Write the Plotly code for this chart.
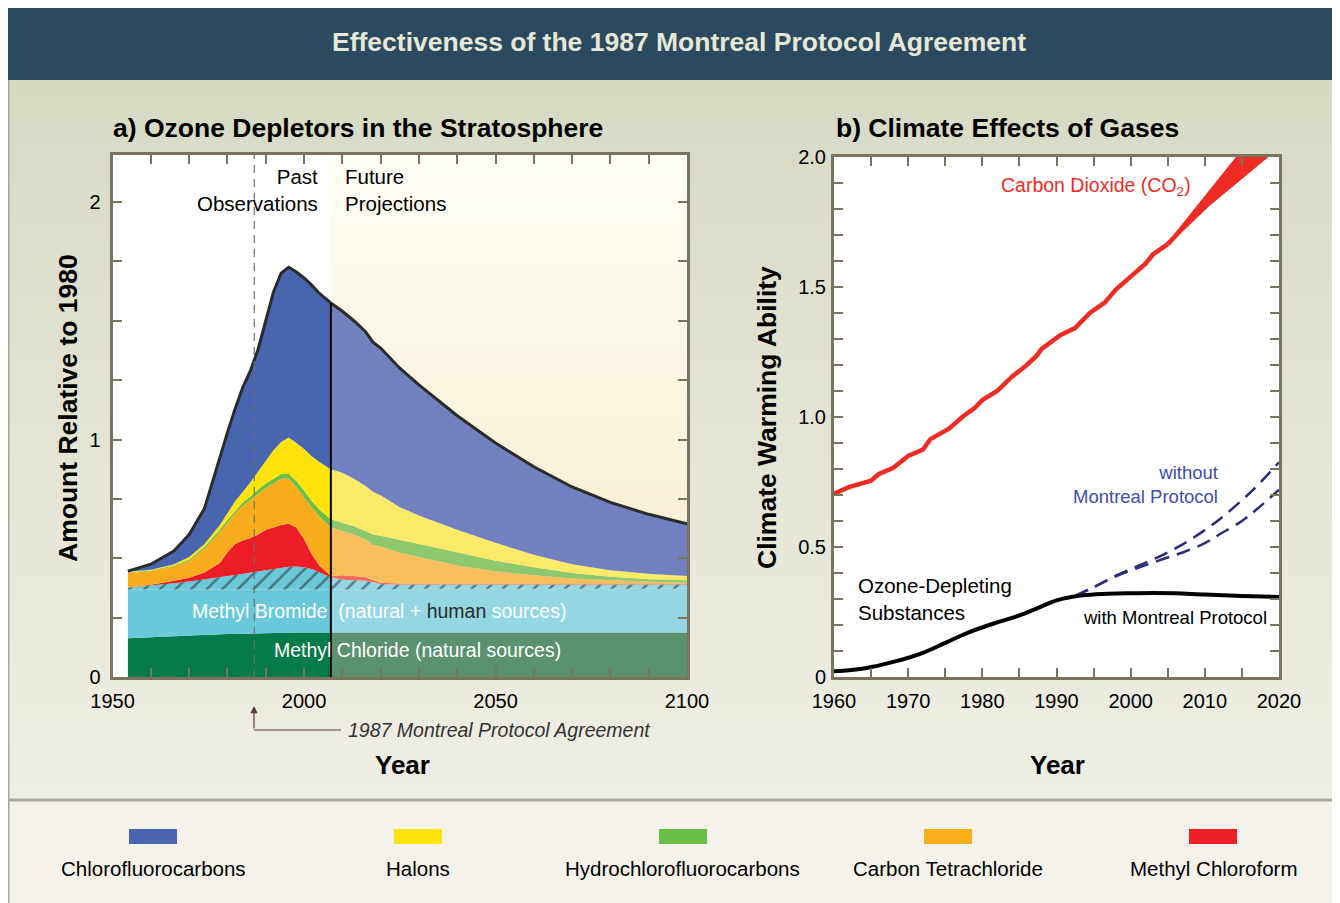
import plotly.graph_objects as go

W, H = 1340, 903
OFF = 8  # the page places the figure 8 px from the window's top-left corner
FONT = "Liberation Sans, Arial, Helvetica, sans-serif"


def px(x):
    return (x - OFF) / W


def py(y):
    return 1 - (y - OFF) / H


# ---------------- Panel a) data: upper edge of each stacked band (amount relative to 1980)
past_years = [1954, 1960, 1966, 1970, 1974, 1978, 1980, 1982, 1984, 1986, 1988, 1990,
              1992, 1994, 1996, 1998, 2000, 2002, 2004, 2007]
past_methyl_chloride = [.163, .168, .173, .176, .178, .180, .181, .182, .183, .184, .185, .186,
                        .186, .187, .187, .187, .187, .187, .187, .187]
past_methyl_bromide_natural = [.368, .368, .368, .368, .368, .368, .368, .368, .368, .368, .368, .368,
                               .368, .368, .368, .368, .368, .368, .368, .368]
past_methyl_bromide_human = [.377, .385, .395, .402, .410, .420, .425, .430, .435, .440, .445, .450,
                             .455, .460, .464, .465, .462, .455, .440, .420]
past_methyl_chloroform = [.377, .388, .405, .418, .440, .480, .525, .560, .575, .585, .600, .620,
                          .630, .640, .645, .630, .580, .517, .470, .425]
past_carbon_tetrachloride = [.439, .445, .466, .490, .540, .610, .650, .690, .720, .745, .770, .795,
                             .815, .835, .835, .800, .755, .713, .675, .630]
past_hcfc = [.441, .448, .470, .495, .548, .620, .662, .700, .735, .760, .790, .815,
             .835, .855, .855, .825, .785, .741, .705, .664]
past_halons = [.443, .452, .475, .505, .560, .640, .690, .740, .780, .820, .865, .910,
               .955, .990, 1.008, .985, .960, .930, .905, .875]
past_cfc = [.446, .475, .530, .600, .710, .930, 1.030, 1.130, 1.220, 1.290, 1.380, 1.500,
            1.620, 1.700, 1.725, 1.705, 1.680, 1.650, 1.615, 1.575]

future_years = [2007, 2010, 2013, 2016, 2018, 2020, 2025, 2030, 2040, 2050, 2060, 2070, 2080, 2090, 2100]
future_methyl_chloride = [.187, .187, .187, .187, .187, .187, .187, .187, .187, .187, .187, .187, .187, .187, .187]
future_methyl_bromide_natural = [.368, .368, .368, .368, .368, .368, .370, .372, .372, .372, .372, .372, .372, .372, .372]
future_methyl_bromide_human = [.420, .410, .407, .405, .400, .392, .390, .390, .390, .390, .390, .390, .390, .390, .390]
future_methyl_chloroform = [.425, .428, .425, .420, .410, .397, .394, .394, .394, .394, .394, .394, .394, .394, .394]
future_carbon_tetrachloride = [.630, .615, .600, .580, .556, .550, .523, .505, .470, .445, .428, .415, .407, .401, .397]
future_hcfc = [.664, .650, .635, .615, .600, .595, .578, .562, .525, .490, .462, .438, .422, .412, .407]
future_halons = [.875, .860, .835, .805, .780, .765, .715, .680, .620, .565, .515, .475, .450, .435, .425]
future_cfc = [1.575, 1.540, 1.500, 1.455, 1.410, 1.385, 1.300, 1.230, 1.100, .985, .885, .800, .735, .685, .645]

protocol_year = 1987
split_year = 2007

# ---------------- Panel b) data: climate warming ability
co2_years = [1960, 1962, 1965, 1966, 1968, 1970, 1972, 1973, 1975.5, 1977.5, 1979, 1980, 1982,
             1984, 1986, 1987.3, 1988, 1990.5, 1992.5, 1994.5, 1996.5, 1998, 2000, 2002, 2003, 2005]
co2_values = [.705, .73, .755, .78, .805, .85, .875, .915, .955, 1.005, 1.035, 1.065, 1.10,
              1.155, 1.20, 1.235, 1.262, 1.315, 1.342, 1.40, 1.44, 1.49, 1.54, 1.59, 1.625, 1.665]
co2_range_years = [2005, 2007, 2010.3, 2012, 2014.3, 2016, 2018, 2020]
co2_range_high = [1.668, 1.74, 1.86, 1.92, 2.0, 2.06, 2.12, 2.18]
co2_range_low = [1.665, 1.725, 1.815, 1.855, 1.91, 1.95, 2.0, 2.045]

ods_years = [1960, 1964, 1968, 1972, 1975, 1978, 1982, 1985, 1988, 1990, 1992, 1994, 1997,
             2000, 2003, 2006, 2010, 2015, 2020]
ods_with_mp = [.022, .033, .058, .093, .131, .17, .21, .237, .272, .295, .308, .315, .32,
               .322, .323, .322, .317, .312, .308]
no_mp_years = [1992.5, 1995, 1998, 2001, 2004, 2007, 2010, 2012, 2015, 2017, 2020]
no_mp_high = [.312, .345, .39, .427, .465, .51, .565, .607, .68, .734, .826]
no_mp_low = [.312, .345, .387, .42, .45, .479, .515, .549, .60, .645, .72]

legend_names = ["Chlorofluorocarbons", "Halons", "Hydrochlorofluorocarbons",
                "Carbon Tetrachloride", "Methyl Chloroform"]
legend_colors = ["#4a66b0", "#fde50b", "#6abd45", "#f9ad1b", "#ee2027"]

# ---------------- styling
PAST_COLORS = ["#067a4b", "#69c8d9", "#69c8d9", "#ec1d26", "#f9ac1b", "#6cbe47", "#fde30b", "#4866b0"]
FUT_COLORS = ["#5a9171", "#94d6e3", "#94d6e3", "#f26c5b", "#fbbe5d", "#8ec86e", "#fbe968", "#7181c0"]
FRAME = "#7a745f"

fig = go.Figure()


def add_stack(years, layers, colors, hatch_bg):
    for i, (vals, col) in enumerate(zip(layers, colors)):
        kw = dict(x=years, y=vals, mode="lines", xaxis="x", yaxis="y",
                  hoverinfo="skip", showlegend=False,
                  fill="tozeroy" if i == 0 else "tonexty", fillcolor=col,
                  line=dict(width=0, color=col))
        if i == 2:
            kw["fillpattern"] = dict(shape="/", bgcolor=hatch_bg, fgcolor="#1e1e1e",
                                     size=11, solidity=0.22)
        if i == len(layers) - 1:
            kw["line"] = dict(width=3, color="#2b2b2b")
        fig.add_trace(go.Scatter(**kw))


add_stack(past_years,
          [past_methyl_chloride, past_methyl_bromide_natural, past_methyl_bromide_human,
           past_methyl_chloroform, past_carbon_tetrachloride, past_hcfc, past_halons, past_cfc],
          PAST_COLORS, "#69c8d9")
add_stack(future_years,
          [future_methyl_chloride, future_methyl_bromide_natural, future_methyl_bromide_human,
           future_methyl_chloroform, future_carbon_tetrachloride, future_hcfc, future_halons, future_cfc],
          FUT_COLORS, "#94d6e3")

# Past/future divider and protocol dashed line
fig.add_trace(go.Scatter(x=[split_year, split_year], y=[0, past_cfc[-1]], mode="lines",
                         line=dict(color="black", width=2), xaxis="x", yaxis="y",
                         hoverinfo="skip", showlegend=False))
fig.add_trace(go.Scatter(x=[protocol_year, protocol_year], y=[0, 2.2], mode="lines",
                         line=dict(color="#707070", width=1.2, dash="8px,6px"), xaxis="x", yaxis="y",
                         hoverinfo="skip", showlegend=False))

# ---------------- Panel b traces
fig.add_trace(go.Scatter(x=co2_range_years, y=co2_range_low, mode="lines",
                         line=dict(color="#ee2c24", width=4.5), xaxis="x2", yaxis="y2",
                         hoverinfo="skip", showlegend=False))
fig.add_trace(go.Scatter(x=co2_range_years, y=co2_range_high, mode="lines", fill="tonexty",
                         fillcolor="#ee2c24", line=dict(color="#ee2c24", width=1.5),
                         xaxis="x2", yaxis="y2", hoverinfo="skip", showlegend=False))
fig.add_trace(go.Scatter(x=co2_years, y=co2_values, mode="lines",
                         line=dict(color="#ee2c24", width=4.5), xaxis="x2", yaxis="y2",
                         hoverinfo="skip", showlegend=False))
for ys in (no_mp_high, no_mp_low):
    fig.add_trace(go.Scatter(x=no_mp_years, y=ys, mode="lines",
                             line=dict(color="#2b2d7a", width=2.5, dash="14px,8px", shape="spline"),
                             xaxis="x2", yaxis="y2", hoverinfo="skip", showlegend=False))
fig.add_trace(go.Scatter(x=ods_years, y=ods_with_mp, mode="lines",
                         line=dict(color="black", width=4, shape="spline"), xaxis="x2", yaxis="y2",
                         hoverinfo="skip", showlegend=False))

# ---------------- shapes (backgrounds, frames)
shapes = []
top_c, bot_c = (215, 218, 195), (239, 238, 229)
n = 36
for i in range(n):
    t = i / (n - 1)
    c = tuple(round(top_c[k] + (bot_c[k] - top_c[k]) * t) for k in range(3))
    y0 = 80 + i * 20
    shapes.append(dict(type="rect", xref="paper", yref="paper", layer="below",
                       x0=px(9), x1=1, y0=py(y0 + 21), y1=py(y0),
                       fillcolor="rgb(%d,%d,%d)" % c, line=dict(width=0)))
shapes.append(dict(type="rect", xref="paper", yref="paper", layer="below",
                   x0=px(9), x1=1, y0=0, y1=py(800), fillcolor="#f4f2ea", line=dict(width=0)))
shapes.append(dict(type="rect", xref="paper", yref="paper", layer="below",
                   x0=0, x1=1, y0=py(80), y1=1, fillcolor="#2b4a5f", line=dict(width=0)))
shapes.append(dict(type="line", xref="paper", yref="paper", x0=px(8.5), x1=px(8.5),
                   y0=0, y1=py(80), line=dict(color="#a9a799", width=2)))
shapes.append(dict(type="line", xref="paper", yref="paper", x0=px(9), x1=1,
                   y0=py(800), y1=py(800), line=dict(color="#aaa899", width=3)))
# white plot areas
shapes.append(dict(type="rect", xref="x", yref="y", layer="below", x0=1950, x1=2100, y0=0, y1=2.2,
                   fillcolor="white", line=dict(width=0)))
shapes.append(dict(type="rect", xref="x2", yref="y2", layer="below", x0=1960, x1=2020, y0=0, y1=2.0,
                   fillcolor="white", line=dict(width=0)))
# future projection shading (gradient)
ftop, fbot = (254, 253, 246), (246, 236, 198)
m = 24
for i in range(m):
    t = i / (m - 1)
    c = tuple(round(ftop[k] + (fbot[k] - ftop[k]) * t) for k in range(3))
    yt = 2.2 - i * 2.2 / m
    shapes.append(dict(type="rect", xref="x", yref="y", layer="below", x0=split_year, x1=2100,
                       y0=yt - 2.2 / m - 0.005, y1=yt, fillcolor="rgb(%d,%d,%d)" % c, line=dict(width=0)))
# protocol arrow connector
shapes.append(dict(type="line", xref="paper", yref="paper", x0=px(254), x1=px(341),
                   y0=py(730), y1=py(730), line=dict(color="#5b3b3b", width=1.2)))
# legend swatches
swatch_x = [153, 418, 683, 948, 1213]
for cx, col in zip(swatch_x, legend_colors):
    shapes.append(dict(type="rect", xref="paper", yref="paper", x0=px(cx - 24), x1=px(cx + 24),
                       y0=py(844), y1=py(829), fillcolor=col, line=dict(width=0)))

# ---------------- annotations
ann = []


def txt(text, x, y, size, color="black", xanchor="center", yanchor="middle", xref="paper",
        yref="paper", angle=0, align="center"):
    ann.append(dict(text=text, x=x, y=y, xref=xref, yref=yref, showarrow=False,
                    xanchor=xanchor, yanchor=yanchor, textangle=angle, align=align,
                    font=dict(family=FONT, size=size, color=color)))


txt("<b>Effectiveness of the 1987 Montreal Protocol Agreement</b>", px(679), py(42), 26.5, "#e6e7d6")
txt("<b>a) Ozone Depletors in the Stratosphere</b>", px(111), py(128), 26.5, xanchor="left")
txt("<b>b) Climate Effects of Gases</b>", px(834), py(128), 26.5, xanchor="left")
txt("<b>Amount Relative to 1980</b>", px(68), py(408), 26.5, angle=-90)
txt("<b>Climate Warming Ability</b>", px(767), py(418), 26.5, angle=-90)
txt("<b>Year</b>", px(402), py(765), 26)
txt("<b>Year</b>", px(1057), py(765), 26)
txt("<i>1987 Montreal Protocol Agreement</i>", px(346), py(730), 19.5, "#333333", xanchor="left")
txt("Past<br>Observations", 2004.2, 2.05, 20.5, xanchor="right", xref="x", yref="y", align="right")
txt("Future<br>Projections", 2010.2, 2.05, 20.5, xanchor="left", xref="x", yref="y", align="left")
txt("Methyl Bromide  (natural + <span style='color:#2a2a2a'>human</span> sources)", 2019.6, 0.278, 19.5,
    "white", xref="x", yref="y")
txt("Methyl Chloride (natural sources)", 2029.5, 0.114, 19.5, "white", xref="x", yref="y")
txt("Carbon Dioxide (CO<sub>2</sub>)", 1995.3, 1.885, 19.5, "#ee2c24", xref="x2", yref="y2")
txt("without<br>Montreal Protocol", 2012.1, 0.74, 18.5, "#3f4da8", xanchor="right",
    xref="x2", yref="y2", align="right")
txt("Ozone-Depleting<br>Substances", 1962.9, 0.30, 20.5, xanchor="left", xref="x2", yref="y2",
    align="left")
txt("with Montreal Protocol", 1993.3, 0.227, 18.5, xanchor="left", xref="x2", yref="y2")
for cx, name in zip(swatch_x, legend_names):
    txt(name, px(cx), py(868), 20.5)
# protocol arrow head
ann.append(dict(text="", x=px(254), y=py(706), xref="paper", yref="paper", showarrow=True,
                ax=0, ay=24, arrowhead=2, arrowsize=1.2, arrowwidth=1.2, arrowcolor="#5b3b3b"))


def axis(domain, rng, tickvals, minor_dtick, ticktext=None, standoff=4):
    d = dict(domain=domain, range=rng, tickvals=tickvals, ticks="inside", ticklen=9,
             tickwidth=2, tickcolor=FRAME, showline=True, linewidth=3, linecolor=FRAME,
             mirror="ticks", showgrid=False, zeroline=False, automargin=False,
             tickfont=dict(family=FONT, size=20, color="black"), ticklabelstandoff=standoff,
             minor=dict(ticks="inside", dtick=minor_dtick, ticklen=9, tickwidth=2,
                        tickcolor=FRAME, showgrid=False))
    if ticktext is not None:
        d["ticktext"] = ticktext
    return d


xa = axis([px(112.6), px(687)], [1950, 2100], [1950, 2000, 2050, 2100], 10, standoff=4)
xa["minor"]["tick0"] = 1950
ya = axis([py(677), py(154.5)], [0, 2.2], [0, 1, 2], 0.25, standoff=5)
xb = axis([px(834), px(1279)], [1960, 2020], [1960, 1970, 1980, 1990, 2000, 2010, 2020], 5, standoff=4)
xb["minor"]["tick0"] = 1960
yb = axis([py(677), py(157)], [0, 2.0], [0, 0.5, 1.0, 1.5, 2.0], 0.1,
          ticktext=["0", "0.5", "1.0", "1.5", "2.0"], standoff=1)
yb["minor"]["tick0"] = 0

fig.update_layout(
    width=W, height=H, margin=dict(l=0, r=0, t=0, b=0, pad=0, autoexpand=False),
    paper_bgcolor="white", plot_bgcolor="white",
    font=dict(family=FONT, color="black"),
    xaxis=dict(anchor="y", **xa), yaxis=dict(anchor="x", **ya),
    xaxis2=dict(anchor="y2", **xb), yaxis2=dict(anchor="x2", **yb),
    shapes=shapes, annotations=ann, showlegend=False,
)

fig.write_html("out.html")
